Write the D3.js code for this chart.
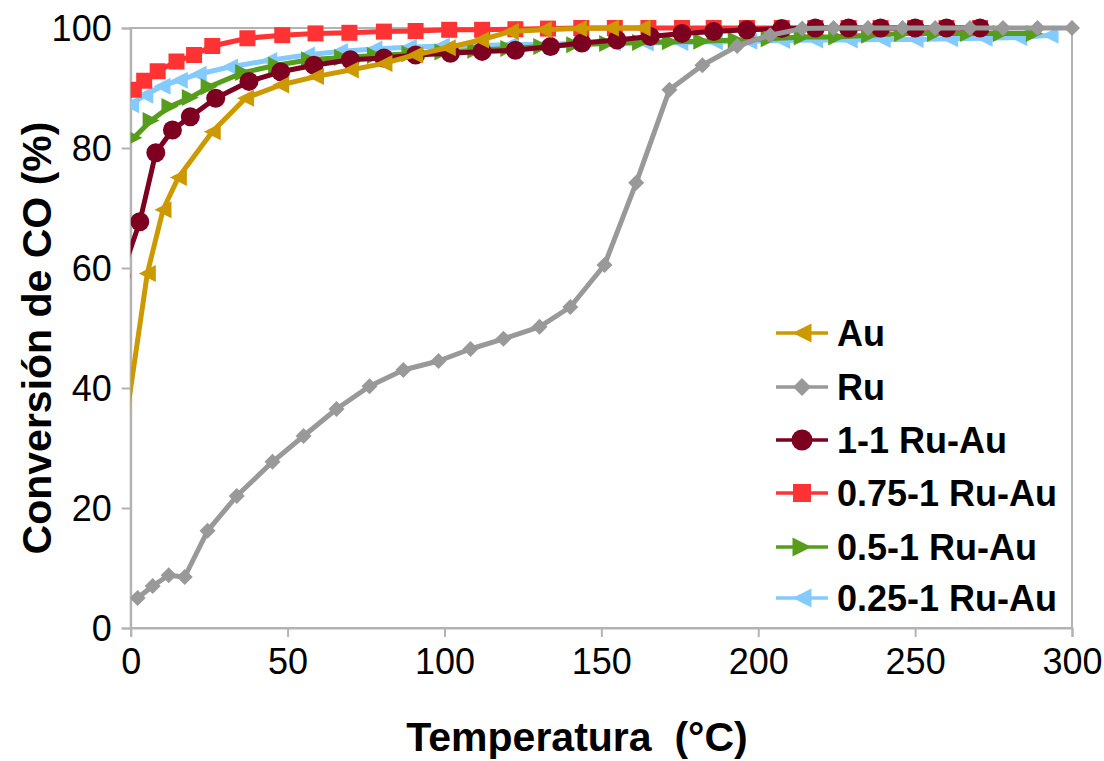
<!DOCTYPE html>
<html><head><meta charset="utf-8">
<script src="https://cdn.jsdelivr.net/npm/d3@7"></script>
<style>body{margin:0;background:#fff}svg{display:block}text{font-family:"Liberation Sans",Arial,sans-serif}</style>
</head><body><svg id="c" width="1104" height="761"></svg>
<script>
const seriesNames = ["Au","Ru","1-1 Ru-Au","0.75-1 Ru-Au","0.5-1 Ru-Au","0.25-1 Ru-Au"];
const auX = [-3,5.3,10.3,15.2,26,36.6,47.8,58.9,70,80.7,90.5,100.9,111.5,121,131.5,142.7,152.9,163];
const auY = [29.2,59.1,69.7,75.1,82.7,88.3,90.5,91.9,93,94.1,95.5,96.7,98,99.4,99.7,99.9,100,100];
const ruX = [2.2,7,12.1,17.2,24.5,33.8,45.2,55.1,65.6,76.1,86.9,98.1,108.3,118.8,130.3,140.1,151,161.1,171.7,182.2,193.3,203.8,214,224,235,246,256.4,267.5,278,289,300];
const ruY = [5,7,8.8,8.5,16.2,22,27.7,32,36.5,40.3,43,44.5,46.5,48.2,50.2,53.5,60.5,74.2,89.7,93.8,97,98.8,99.9,100,100,100,100,100,100,100,100];
const r11X = [-3,2.9,8,13.3,19,27.1,37.7,47.8,58.4,70,80.7,90.8,101.9,112,122.6,133.8,143.8,155,165.6,175.7,185.8,196.4,207.5,218.2,228.8,239,250,260,270.7];
const r11Y = [58.7,67.7,79.2,83,85.2,88.3,91.1,92.7,93.8,94.7,95,95.5,95.8,96.1,96.3,96.9,97.5,98,98.6,99.1,99.4,99.7,99.9,100,100,100,100,100,100];
const r075X = [1,4.3,8.6,14.6,20.2,26,37.2,48.3,58.9,69.7,80.7,90.8,101.5,112,122.6,133,143.6,154.3,165,175.7,185.8,196.4,207.5,218.2,228.8,239,250,260,270.7];
const r075Y = [89.7,91.2,92.8,94.4,95.5,97,98.3,98.8,99.1,99.2,99.4,99.5,99.7,99.7,99.8,99.9,100,100,100,100,100,100,100,100,100,100,100,100,100];
const r05X = [1,6.5,12.5,19,25,36,46.5,57,67.5,78,89,99.5,110,120.5,131,141.5,152,162.5,172,182,193,203.5,214,225,235.5,246,256.5,267,277.5,288];
const r05Y = [81.7,84.6,86.9,88.4,90.2,92.6,93.8,94.7,95.1,95.4,95.7,96,96.3,96.6,96.9,97.2,97.4,97.6,97.7,97.8,98,98.2,98.5,98.5,98.8,99.1,99.1,99.1,99.1,99.1];
const r025X = [0,4.5,10,15.5,21.5,31.5,44,56,66.5,77.5,88.5,99,110,121,132,143,153.5,164,175,186,197,207.5,218,229,239.5,250,261,272,283,293];
const r025Y = [87.2,88.8,90.3,91.3,92.3,93.5,94.6,95.5,96.1,96.5,96.8,97,97.1,97.2,97.3,97.4,97.5,97.5,97.6,97.7,97.8,97.9,98,98,98.1,98.1,98.2,98.3,98.4,98.8];
const xTicks = [0,50,100,150,200,250,300];
const yTicks = [0,20,40,60,80,100];

const svg = d3.select("#c");
const L=130.7, R=1072, T=28, B=628;
const x = d3.scaleLinear().domain([0,300]).range([L,R]);
const y = d3.scaleLinear().domain([0,100]).range([B,T]);
const grid="#b3b3b3";

svg.append("rect").attr("x",L).attr("y",T).attr("width",R-L).attr("height",B-T)
  .attr("fill","none").attr("stroke",grid).attr("stroke-width",2);

const xa = svg.append("g").attr("transform",`translate(0,${B})`)
  .call(d3.axisBottom(x).tickValues(xTicks).tickSize(9).tickPadding(11).tickFormat(d3.format("d")));
const ya = svg.append("g").attr("transform",`translate(${L},0)`)
  .call(d3.axisLeft(y).tickValues(yTicks).tickSize(9).tickPadding(10).tickFormat(d3.format("d")));
[xa,ya].forEach(a=>{
  a.attr("font-size",36);
  a.select(".domain").attr("stroke",grid).attr("stroke-width",2);
  a.selectAll(".tick line").attr("stroke",grid).attr("stroke-width",2);
  a.selectAll(".tick text").attr("font-size",36).attr("fill","#000").attr("font-family","Liberation Sans, Arial, sans-serif");
});
xa.selectAll(".tick text").attr("dy","0.71em");
ya.selectAll(".tick text").attr("dy","0.35em");

svg.append("text").attr("x",577).attr("y",751).attr("text-anchor","middle")
  .attr("font-size",41).attr("font-weight","bold").attr("xml:space","preserve").text("Temperatura  (°C)");
svg.append("text").attr("transform","translate(51,338) rotate(-90)").attr("text-anchor","middle")
  .attr("font-size",41).attr("font-weight","bold").text("Conversión de CO (%)");

function shape(type, s){
  const h=s/2;
  switch(type){
    case "tl": return `M${-h},0L${h},${-h}L${h},${h}Z`;
    case "tr": return `M${h},0L${-h},${-h}L${-h},${h}Z`;
    case "diamond": return `M0,${-h}L${h},0L0,${h}L${-h},0Z`;
    case "square": return `M${-h},${-h}H${h}V${h}H${-h}Z`;
    case "circle": return d3.symbol(d3.symbolCircle, Math.PI*h*h)();
  }
}

const series = [
  {name:seriesNames[5], xs:r025X, ys:r025Y, color:"#83caff", m:"tl", s:17},
  {name:seriesNames[4], xs:r05X, ys:r05Y, color:"#579d1c", m:"tr", s:17},
  {name:seriesNames[3], xs:r075X, ys:r075Y, color:"#ff3333", m:"square", s:16},
  {name:seriesNames[2], xs:r11X, ys:r11Y, color:"#7e0021", m:"circle", s:19},
  {name:seriesNames[0], xs:auX, ys:auY, color:"#cc9900", m:"tl", s:17},
  {name:seriesNames[1], xs:ruX, ys:ruY, color:"#999999", m:"diamond", s:16},
];

svg.append("clipPath").attr("id","clip").append("rect")
  .attr("x",L).attr("y",0).attr("width",R-L+20).attr("height",B+10);
const plot = svg.append("g").attr("clip-path","url(#clip)");
const line = d3.line().x(d=>x(d[0])).y(d=>y(d[1]));
series.forEach(sr=>{
  const pts = sr.xs.map((v,i)=>[v,sr.ys[i]]);
  const g = plot.append("g");
  g.append("path").attr("d",line(pts)).attr("fill","none").attr("stroke",sr.color)
    .attr("stroke-width",5).attr("stroke-linejoin","round");
  g.selectAll("path.m").data(pts).join("path").attr("class","m")
    .attr("transform",d=>`translate(${x(d[0])},${y(d[1])})`)
    .attr("d",shape(sr.m,sr.s)).attr("fill",sr.color);
});

const legOrder = [4,5,3,2,1,0];
const legY = [333,387,440,493,547,598];
legOrder.forEach((si,i)=>{
  const sr = series[si];
  const g = svg.append("g").attr("transform",`translate(0,${legY[i]})`);
  g.append("line").attr("x1",776).attr("x2",828).attr("y1",0).attr("y2",0)
    .attr("stroke",sr.color).attr("stroke-width",3.5);
  g.append("path").attr("transform","translate(802,0)").attr("d",shape(sr.m,sr.s+2)).attr("fill",sr.color);
  g.append("text").attr("x",837).attr("y",0).attr("dy","0.36em").attr("font-size",36)
    .attr("font-weight","bold").text(sr.name);
});
</script></body></html>
